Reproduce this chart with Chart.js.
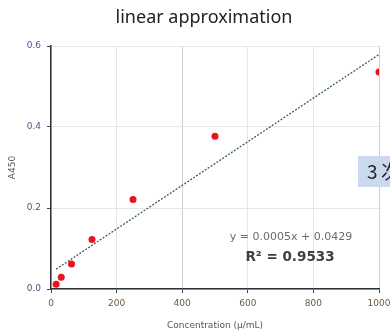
<!DOCTYPE html>
<html lang="en">
<head>
    <meta charset="UTF-8">
    <title>linear approximation</title>
    <style>
        html, body { margin: 0; padding: 0; background: #fff; }
        #wrap { width: 390px; height: 331px; position: relative; }
    </style>
</head>
<body>
    <div id="wrap"><canvas id="myChart"></canvas></div>
    <script src="https://cdn.jsdelivr.net/npm/chart.js"></script>
    <script>
        // concentrations (μ/mL) and absorbance
        var concentrations = [15.625, 31.25, 62.5, 125, 250, 500, 1000];
        var absorbance = [0.012, 0.029, 0.062, 0.122, 0.221, 0.377, 0.536];
        // trend line end points as drawn
        var trendX = [15.625, 1000];
        var trendY = [0.049, 0.579];
        var xTicks = [0, 200, 400, 600, 800, 1000];
        var yTicks = [0.0, 0.2, 0.4, 0.6];

        var titleText = "linear approximation";
        var equationText = "y = 0.0005x + 0.0429";
        var r2Text = "R² = 0.9533";
        var boxText = ["3", "次"];

        function toPoints(xs, ys) {
            return xs.map(function (x, i) { return { x: x, y: ys[i] }; });
        }

        // draws title, equation, R² and the cut-off label box
        var extras = {
            id: "extras",
            afterDraw: function (chart) {
                var c = chart.ctx;
                c.save();
                c.textAlign = "center";
                c.textBaseline = "middle";
                c.fillStyle = "#222";
                c.font = "18px 'Noto Sans'";
                c.fillText(titleText, 204, 18);

                c.fillStyle = "#6b6b6b";
                c.font = "11px 'DejaVu Sans'";
                c.fillText(equationText, 291, 237);

                c.fillStyle = "#404040";
                c.font = "bold 13.5px 'DejaVu Sans'";
                c.fillText(r2Text, 290, 257);

                c.fillStyle = "#cbd9ef";
                c.fillRect(358, 156, 40, 31);
                c.fillStyle = "#222";
                c.textAlign = "left";
                c.font = "19px 'Noto Sans CJK JP'";
                c.fillText(boxText[0], 367, 172);
                c.fillText(boxText[1], 381, 172);
                c.restore();
            }
        };

        var ctx = document.getElementById("myChart").getContext("2d");
        var myChart = new Chart(ctx, {
            type: "scatter",
            data: {
                datasets: [
                    {
                        label: "trend",
                        data: toPoints(trendX, trendY),
                        showLine: true,
                        borderColor: "#3f5f5f",
                        borderWidth: 1.3,
                        borderDash: [2, 1.5],
                        pointRadius: 0,
                        fill: false
                    },
                    {
                        label: "A450",
                        data: toPoints(concentrations, absorbance),
                        backgroundColor: "#e8141c",
                        borderColor: "#e8141c",
                        pointRadius: 3.5,
                        borderWidth: 0
                    }
                ]
            },
            options: {
                responsive: true,
                maintainAspectRatio: false,
                animation: false,
                layout: { padding: { top: 46, right: 11, bottom: 0, left: 0 } },
                plugins: {
                    legend: { display: false },
                    title: { display: false },
                    tooltip: { enabled: false }
                },
                scales: {
                    x: {
                        type: "linear",
                        min: 0,
                        max: 1000,
                        afterBuildTicks: function (axis) {
                            axis.ticks = xTicks.map(function (v) { return { value: v }; });
                        },
                        afterFit: function (axis) {
                            axis.height = 42;
                            axis.paddingLeft = 0;
                            axis.paddingRight = 0;
                        },
                        ticks: {
                            color: "#6b5a45",
                            font: { family: "DejaVu Sans", size: 9 },
                            padding: 5,
                            maxRotation: 0,
                            callback: function (v) { return String(v); }
                        },
                        grid: {
                            color: function (c) {
                                return (c.tick && (c.tick.value === 400 || c.tick.value === 1000)) ? "#cfcfcf" : "#e6e6e6";
                            },
                            tickColor: "#404040",
                            tickLength: 4
                        },
                        border: { color: "#303030", width: 1.5 },
                        title: {
                            display: true,
                            text: "Concentration (μ/mL)",
                            color: "#555",
                            font: { family: "DejaVu Sans", size: 9 },
                            padding: { top: 3, bottom: 0 }
                        }
                    },
                    y: {
                        min: 0,
                        max: 0.6,
                        afterBuildTicks: function (axis) {
                            axis.ticks = yTicks.map(function (v) { return { value: v }; });
                        },
                        afterFit: function (axis) {
                            axis.width = 51;
                            axis.paddingTop = 0;
                            axis.paddingBottom = 0;
                        },
                        ticks: {
                            color: "#3f5a8a",
                            font: { family: "DejaVu Sans", size: 9 },
                            padding: 6,
                            callback: function (v) { return Number(v).toFixed(1); }
                        },
                        grid: {
                            color: "#e6e6e6",
                            tickColor: "#404040",
                            tickLength: 4
                        },
                        border: { color: "#303030", width: 1.5 },
                        title: {
                            display: true,
                            text: "A450",
                            color: "#555",
                            font: { family: "DejaVu Sans", size: 9 },
                            padding: { top: 7, bottom: 0 }
                        }
                    }
                }
            },
            plugins: [extras]
        });
    </script>
</body>
</html>
